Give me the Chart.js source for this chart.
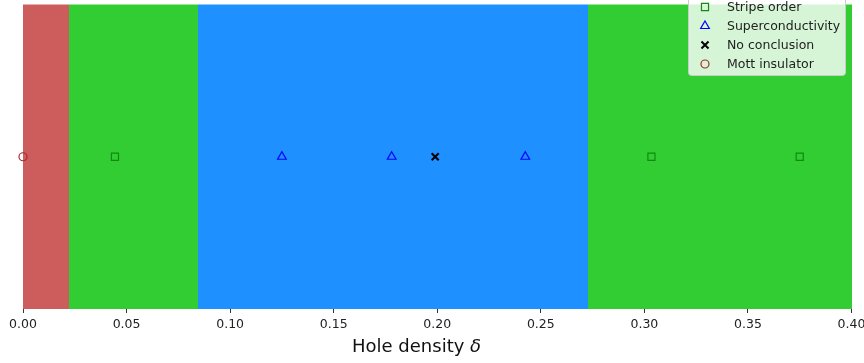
<!DOCTYPE html>
<html>
<head>
<meta charset="utf-8">
<script src="https://cdn.jsdelivr.net/npm/chart.js@4/dist/chart.umd.min.js"></script>
<style>
    html, body { margin: 0; padding: 0; background: #fff; }
    #wrap { width: 864px; height: 363px; }
</style>
</head>
<body>
<div id="wrap"><canvas id="phaseChart"></canvas></div>
<script>
var fontFamily = "DejaVu Sans";

// doping values of each calculation, grouped by outcome
var stripeDoping = [0.0444, 0.3034, 0.375];
var scDoping = [0.125, 0.178, 0.2425];
var noConclusionDoping = [0.199];
var mottDoping = [0.0];

// phase regions along the doping axis
var bandEdges = [0, 0.0222, 0.0847, 0.273, 0.4];
var bandColors = ["#cd5c5c", "#32cd32", "#1e90ff", "#32cd32"];

var xTicks = [0, 0.05, 0.1, 0.15, 0.2, 0.25, 0.3, 0.35, 0.4];

function toPoints(arr) {
    return arr.map(function (d) {
        return { x: d, y: 0 };
    });
}

// coloured background regions
var bandPlugin = {
    id: "bands",
    beforeDatasetsDraw: function (chart) {
        let ctx = chart.ctx;
        let xs = chart.scales.x;
        let area = chart.chartArea;
        ctx.save();
        for (let i = 0; i < bandColors.length; i++) {
            let x0 = Math.round(xs.getPixelForValue(bandEdges[i]));
            let x1 = Math.round(xs.getPixelForValue(bandEdges[i + 1]));
            ctx.fillStyle = bandColors[i];
            ctx.fillRect(x0, area.top, x1 - x0, area.bottom - area.top);
        }
        ctx.restore();
    },
};

// axis title and the legend box in the upper right corner
var overlayPlugin = {
    id: "overlay",
    afterDraw: function (chart) {
        let ctx = chart.ctx;
        let area = chart.chartArea;
        ctx.save();

        // x axis title with italic delta
        ctx.fillStyle = "#111";
        ctx.textBaseline = "alphabetic";
        let label = "Hole density ";
        ctx.font = "18px " + fontFamily;
        let w1 = ctx.measureText(label).width;
        ctx.font = "italic 18px " + fontFamily;
        let w2 = ctx.measureText("δ").width;
        let cx = area.left + (area.right - area.left) * 0.475;
        let x = cx - (w1 + w2) / 2;
        ctx.font = "18px " + fontFamily;
        ctx.textAlign = "left";
        ctx.fillText(label, x, 352);
        ctx.font = "italic 18px " + fontFamily;
        ctx.fillText("δ", x + w1, 352);

        // legend
        let bx = 688, by = -4, bw = 157, bh = 79;
        ctx.beginPath();
        ctx.roundRect(bx + 0.5, by + 0.5, bw, bh, 3);
        ctx.fillStyle = "rgba(255,255,255,0.8)";
        ctx.fill();
        ctx.strokeStyle = "#cccccc";
        ctx.lineWidth = 1;
        ctx.stroke();

        ctx.font = "12.5px " + fontFamily;
        ctx.textBaseline = "middle";
        chart.data.datasets.forEach(function (ds, i) {
            let y = 7 + i * 19;
            ctx.strokeStyle = ds.borderColor;
            ctx.fillStyle = "rgba(0,0,0,0)";
            ctx.lineWidth = ds.borderWidth;
            Chart.helpers.drawPoint(ctx, { pointStyle: ds.pointStyle, radius: ds.pointRadius, rotation: 0, borderWidth: ds.borderWidth }, 705, y);
            ctx.fillStyle = "#222";
            ctx.fillText(ds.label, 727, y + 1);
        });
        ctx.restore();
    },
};

let config_scatter = {
    type: "scatter",
    data: {
        datasets: [
            {
                label: "Stripe order",
                data: toPoints(stripeDoping),
                pointStyle: "rect",
                pointRadius: 5,
                borderColor: "#128a12",
                backgroundColor: "rgba(0,0,0,0)",
                borderWidth: 1.2,
            },
            {
                label: "Superconductivity",
                data: toPoints(scDoping),
                pointStyle: "triangle",
                pointRadius: 5,
                borderColor: "#0000ff",
                backgroundColor: "rgba(0,0,0,0)",
                borderWidth: 1.2,
            },
            {
                label: "No conclusion",
                data: toPoints(noConclusionDoping),
                pointStyle: "crossRot",
                pointRadius: 5,
                borderColor: "#000000",
                backgroundColor: "#000000",
                borderWidth: 2,
            },
            {
                label: "Mott insulator",
                data: toPoints(mottDoping),
                pointStyle: "circle",
                pointRadius: 4,
                borderColor: "#a52a2a",
                backgroundColor: "rgba(0,0,0,0)",
                borderWidth: 1.2,
            },
        ],
    },
    options: {
        responsive: true,
        maintainAspectRatio: false,
        animation: false,
        clip: false,
        layout: {
            autoPadding: false,
            padding: { left: 23, right: 12.5, top: 4.5, bottom: 27 },
        },
        scales: {
            x: {
                type: "linear",
                min: 0,
                max: 0.4,
                afterBuildTicks: function (axis) {
                    axis.ticks = xTicks.map(function (v) {
                        return { value: v };
                    });
                },
                afterFit: function (axis) {
                    // let the end labels hang past the plot edge
                    axis.paddingLeft = 0;
                    axis.paddingRight = 0;
                },
                border: { display: false },
                grid: {
                    drawOnChartArea: false,
                    drawTicks: true,
                    tickLength: 4,
                    tickWidth: 1,
                    tickColor: "#333",
                },
                ticks: {
                    padding: 4,
                    color: "#222",
                    maxRotation: 0,
                    font: { family: fontFamily, size: 12.5 },
                    callback: function (v) {
                        return v.toFixed(2);
                    },
                },
            },
            y: {
                display: false,
                min: -1,
                max: 1,
            },
        },
        plugins: {
            legend: { display: false },
            tooltip: { enabled: false },
        },
    },
    plugins: [bandPlugin, overlayPlugin],
};

var phaseChart = new Chart("phaseChart", config_scatter);
</script>
</body>
</html>
